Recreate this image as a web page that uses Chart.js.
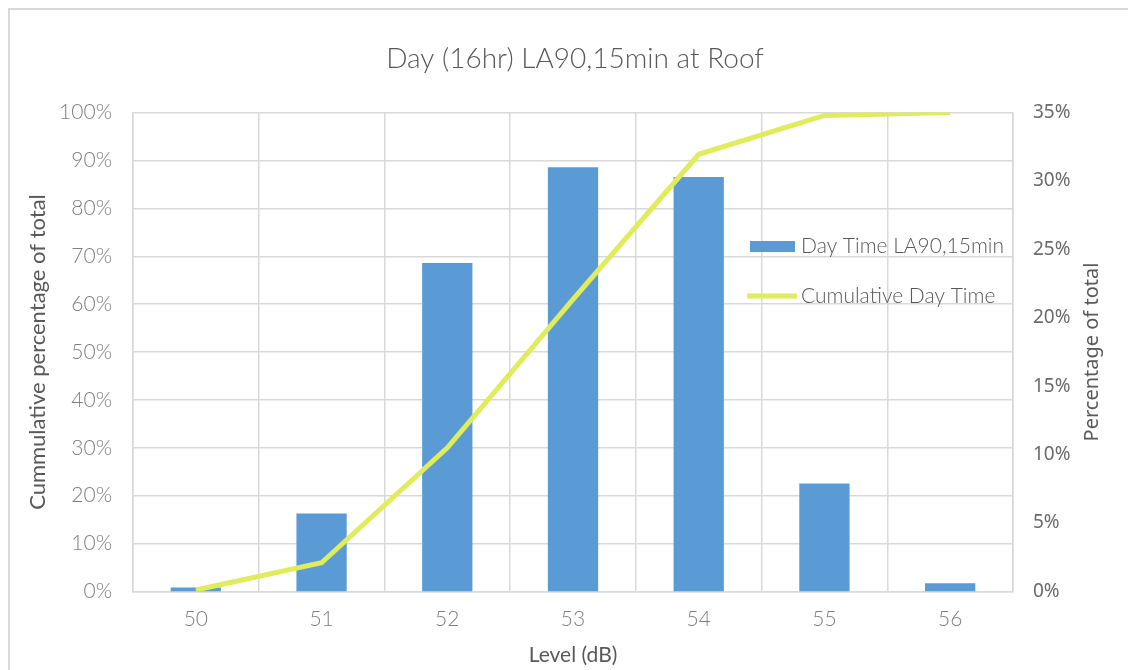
<!DOCTYPE html>
<html>
<head>
<meta charset="utf-8">
<script src="https://cdn.jsdelivr.net/npm/chart.js@4.4.1/dist/chart.umd.min.js"></script>
<style>
  html, body { margin: 0; padding: 0; background: #fff; overflow: hidden; }
  #wrap { position: relative; width: 1128px; height: 670px; overflow: hidden; }
  #frame { position: absolute; left: 8px; top: 8px; width: 1200px; height: 700px; border: 2px solid #d9d9d9; box-sizing: border-box; }
  #chart { position: absolute; left: 0; top: 0; }
</style>
</head>
<body>
<div id="wrap">
  <div id="frame"></div>
  <canvas id="chart" width="1128" height="670"></canvas>
</div>
<script>
// values
const levels = ['50', '51', '52', '53', '54', '55', '56'];
const dayTimePct = [0.3, 5.7, 24.0, 31.0, 30.3, 7.9, 0.6];
const cumulativePct = [0.3, 6.0, 30.0, 61.0, 91.3, 99.4, 100];
const leftAxisMax = 100;
const rightAxisMax = 35;

const GRID = '#d9d9d9';
const LIGHT = 'Lato, "Open Sans", sans-serif';
const SANS = '"Noto Sans", "Open Sans", sans-serif';
const BAR_BLUE = '#5b9bd5';
const LINE_LIME = '#e0ec5a';
const RIGHT_TITLE = 'Percentage of total';

// legend sits inside the plot area, like the Excel original;
// the right axis title reads bottom-to-top, so it is drawn here too
const extras = {
    id: 'extras',
    afterDraw(chart) {
        const ctx = chart.ctx;
        ctx.save();
        ctx.font = '300 21px ' + LIGHT;
        ctx.textBaseline = 'middle';

        ctx.fillStyle = BAR_BLUE;
        ctx.fillRect(750, 241, 45, 11);
        ctx.fillStyle = '#595959';
        ctx.fillText(chart.data.datasets[0].label, 801, 246);

        ctx.strokeStyle = LINE_LIME;
        ctx.lineWidth = 5;
        ctx.beginPath();
        ctx.moveTo(747, 296);
        ctx.lineTo(797, 296);
        ctx.stroke();
        ctx.fillText(chart.data.datasets[1].label, 801, 296);

        const area = chart.chartArea;
        ctx.translate(1092, (area.top + area.bottom) / 2);
        ctx.rotate(-Math.PI / 2);
        ctx.textAlign = 'center';
        ctx.font = '20px ' + SANS;
        ctx.fillText(RIGHT_TITLE, 0, 0);
        ctx.restore();
    }
};

const ctx = document.getElementById('chart').getContext('2d');
new Chart(ctx, {
    type: 'bar',
    data: {
        labels: levels,
        datasets: [{
            type: 'bar',
            label: 'Day Time LA90,15min',
            data: dayTimePct,
            yAxisID: 'yRight',
            backgroundColor: BAR_BLUE,
            borderWidth: 0,
            categoryPercentage: 1,
            barPercentage: 0.4,
            order: 2
        }, {
            type: 'line',
            label: 'Cumulative Day Time',
            data: cumulativePct,
            yAxisID: 'yLeft',
            borderColor: LINE_LIME,
            backgroundColor: LINE_LIME,
            borderWidth: 5,
            pointRadius: 0,
            tension: 0,
            order: 1
        }]
    },
    options: {
        responsive: false,
        animation: false,
        events: [],
        // left padding nudges the centred title right, as in the original
        layout: { padding: { left: 22, right: 0, top: 0, bottom: 0 } },
        plugins: {
            legend: { display: false },
            tooltip: { enabled: false },
            title: {
                display: true,
                text: 'Day (16hr) LA90,15min at Roof',
                color: '#595959',
                font: { family: LIGHT, size: 28, weight: 300, lineHeight: 1.2 },
                padding: { top: 42, bottom: 37 }
            }
        },
        scales: {
            x: {
                offset: true,
                grid: { color: GRID, lineWidth: 1.5, offset: true, drawTicks: false },
                border: { color: GRID, width: 1.5 },
                ticks: { color: '#7f7f7f', padding: 15, font: { family: LIGHT, size: 21, weight: 300 } },
                title: {
                    display: true,
                    text: 'Level (dB)',
                    color: '#595959',
                    padding: { top: 0, bottom: 2 },
                    font: { family: LIGHT, size: 21, lineHeight: 1.2 }
                },
                afterFit(scale) { scale.height = 78.5; }
            },
            yLeft: {
                position: 'left',
                min: 0,
                max: leftAxisMax,
                grid: { color: GRID, lineWidth: 1.5, drawTicks: false },
                border: { color: GRID, width: 1.5 },
                ticks: {
                    stepSize: 10,
                    padding: 21,
                    color: '#7f7f7f',
                    font: { family: LIGHT, size: 21, weight: 300 },
                    callback: v => v + '%'
                },
                title: {
                    display: true,
                    text: 'Cummulative percentage of total',
                    color: '#595959',
                    padding: { top: 3, bottom: 0 },
                    font: { family: LIGHT, size: 22, lineHeight: 1.2 }
                },
                afterFit(scale) { scale.width = 111; }
            },
            yRight: {
                position: 'right',
                min: 0,
                max: rightAxisMax,
                grid: { display: false, drawTicks: false },
                border: { color: GRID, width: 1.5 },
                ticks: {
                    stepSize: 5,
                    padding: 20,
                    color: '#6b6b6b',
                    font: { family: SANS, size: 19 },
                    callback: v => v + '%'
                },
                afterFit(scale) { scale.width = 115; }
            }
        }
    },
    plugins: [extras]
});
</script>
</body>
</html>
